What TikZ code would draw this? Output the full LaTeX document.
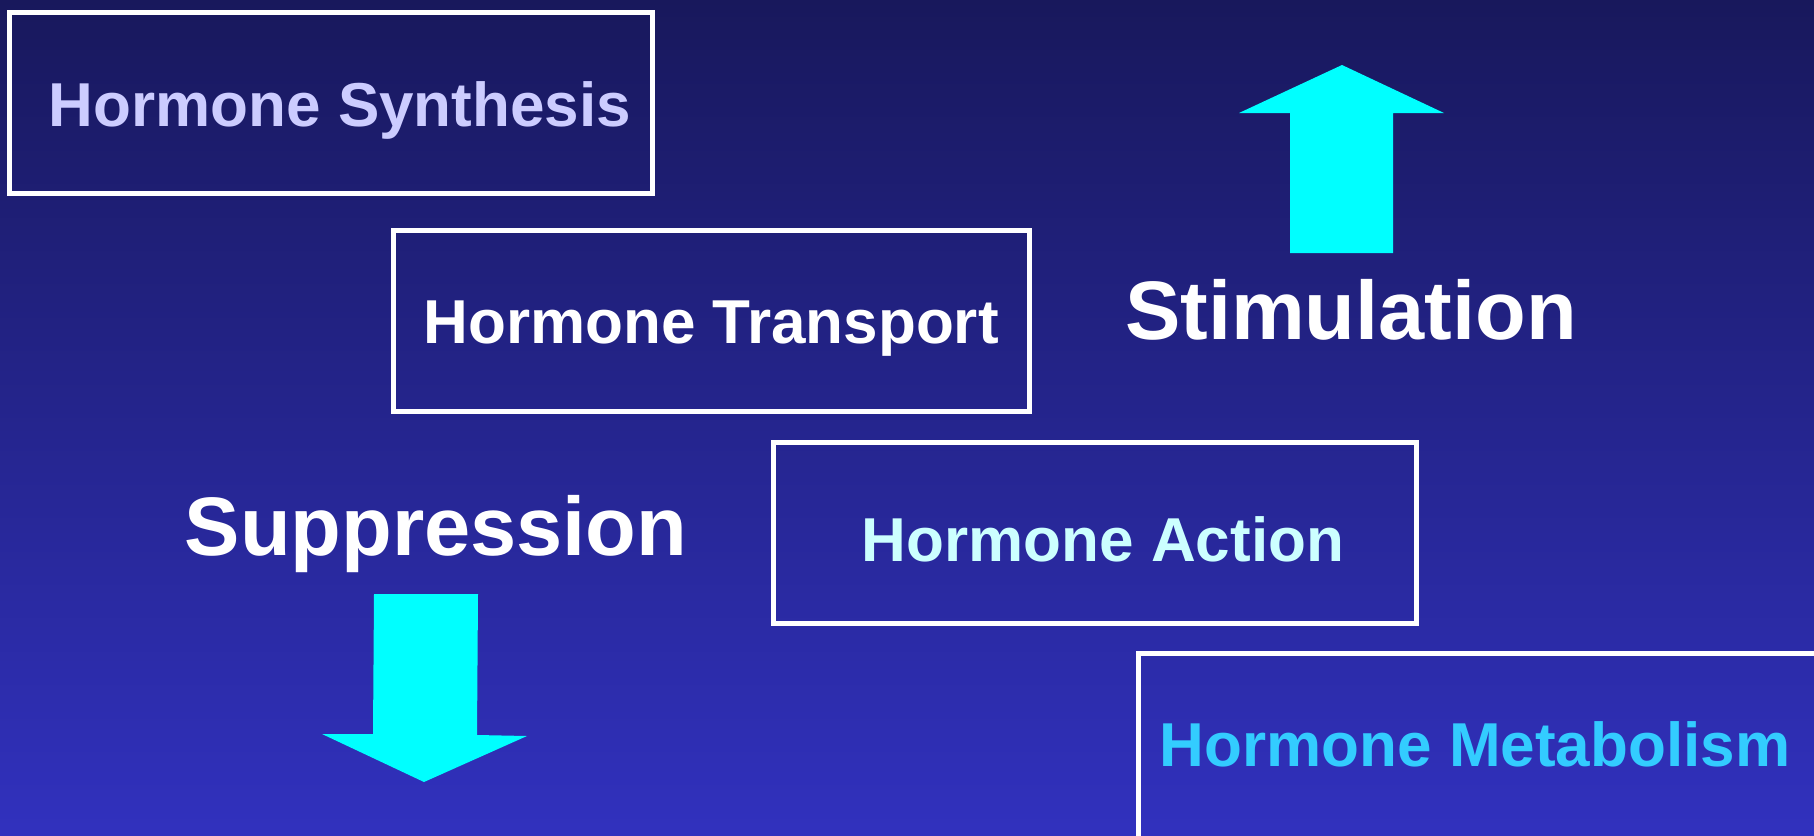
\documentclass[tikz,border=0pt]{standalone}
\usepackage{fontspec}
\setmainfont{Liberation Sans}
\definecolor{bgtop}{HTML}{18185C}
\definecolor{bgbot}{HTML}{3131BE}
\definecolor{arrowc}{HTML}{00FFFF}
\definecolor{synthc}{HTML}{CCCCFF}
\definecolor{actionc}{HTML}{CCFFFF}
\definecolor{metabc}{HTML}{33CCFF}
\tikzset{
  hbox/.style={draw=white, line width=5pt, inner sep=0pt, outer sep=0pt, rectangle},
  boxtext/.style={anchor=base, inner sep=0pt, font=\bfseries\fontsize{62}{62}\selectfont},
  bigtext/.style={anchor=base, inner sep=0pt, text=white, font=\bfseries\fontsize{83}{83}\selectfont},
  bigarrow/.style={fill=arrowc, draw=none}
}
\begin{document}
\begin{tikzpicture}[x=1pt,y=-1pt]
\useasboundingbox (0,0) rectangle (1814,835);
\clip (0,0) rectangle (1814,835);
\shade[top color=bgtop, bottom color=bgbot] (0,0) rectangle (1814,835);
% boxes
\node[hbox, minimum width=643pt, minimum height=181pt] (synth) at (330.5,102.5) {};
\node[hbox, minimum width=636pt, minimum height=181pt] (transp) at (711,320.5) {};
\node[hbox, minimum width=643pt, minimum height=181pt] (action) at (1094.5,532.5) {};
\node[hbox, minimum width=720pt, minimum height=220pt] (metab) at (1498,763) {};
% box texts
\node[boxtext, text=synthc] (synthT) at (340,126) {Hormone Synthesis};
\node[boxtext, text=white] (transpT) at (711,343) {Hormone Transport};
\node[boxtext, text=actionc] (actionT) at (1103,561) {Hormone Action};
\node[boxtext, text=metabc] (metabT) at (1475,766) {Hormone Metabolism};
% big labels
\node[bigtext] (stim) at (1351,339) {Stimulation};
\node[bigtext] (supp) at (436,555) {Suppression};
% arrows
\fill[bigarrow] (1342,65) -- (1444,113) -- (1393,113) -- (1393,253) -- (1290,253) -- (1290,113) -- (1239,113) -- cycle;
\fill[bigarrow] (374,594) -- (478,594) -- (477,735) -- (527,736) -- (424,782) -- (322,734) -- (373,734) -- cycle;
\end{tikzpicture}
\end{document}
